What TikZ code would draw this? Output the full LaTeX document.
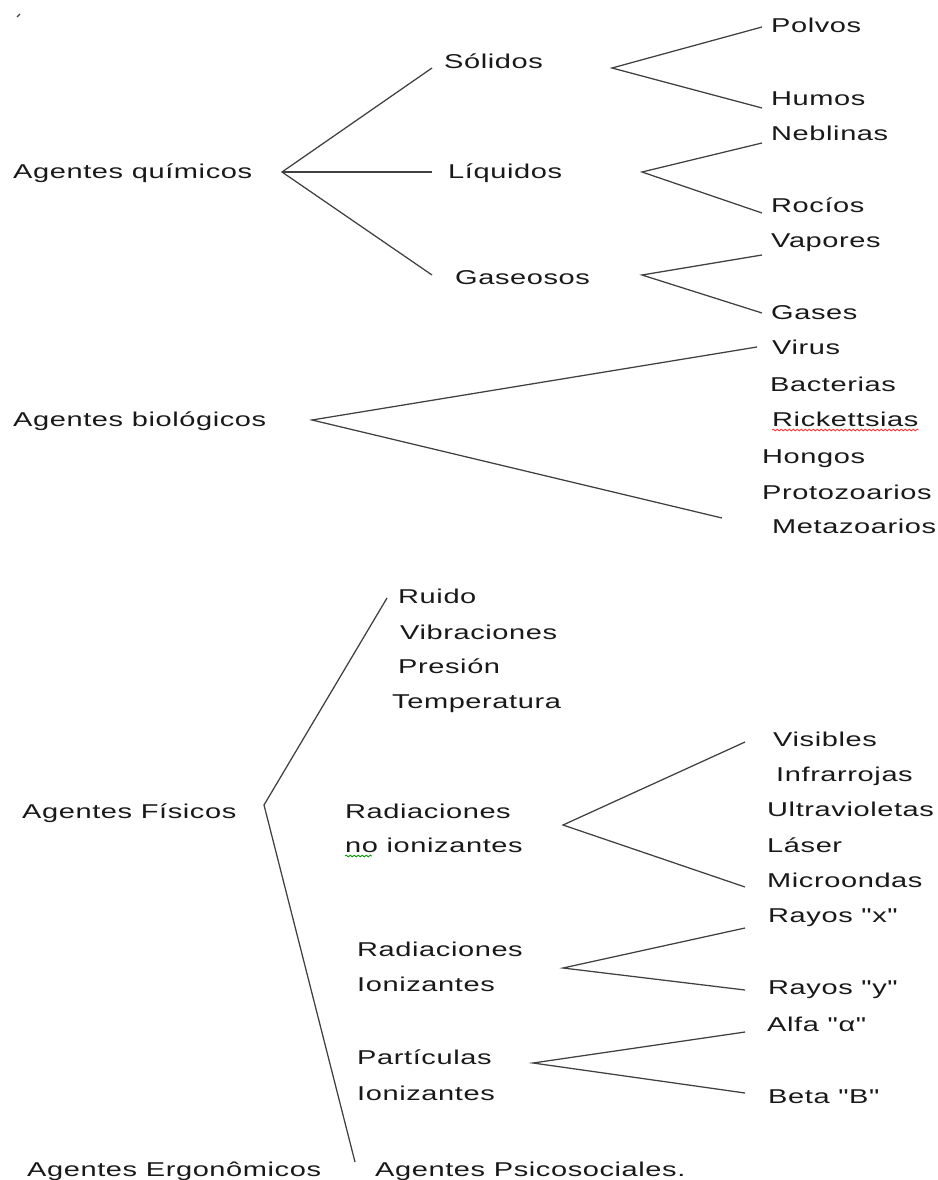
\documentclass[tikz,border=0pt]{standalone}
\usepackage{fontspec}
\setmainfont{Liberation Sans}[FakeStretch=1.45,LetterSpace=3,Ligatures=TeXOff]
\usetikzlibrary{decorations.pathmorphing}

\tikzset{
  lbl/.style={anchor=base west,inner sep=0pt,text=black!90,font=\fontsize{20}{24}\selectfont},
  rama/.style={line width=1.25pt,black!75},
  ondita/.style={decorate,decoration={snake,segment length=4pt,amplitude=0.9pt},line width=0.8pt}
}

\begin{document}
\begin{tikzpicture}[x=1pt,y=-1pt]
      \useasboundingbox[fill=white] (0,0) rectangle (937,1180);
      \draw[rama] (17,17)--(20,14);

      % agentes quimicos
      \node (quim) at (13,178) [lbl]{Agentes químicos};
      \node (sol) at (444,69) [lbl]{Sólidos};
      \node (liq) at (448,178) [lbl]{Líquidos};
      \node (gas) at (455,284) [lbl]{Gaseosos};
      \node (polvos) at (771,33) [lbl]{Polvos};
      \node (humos) at (771,106) [lbl]{Humos};
      \node (nebl) at (771,141) [lbl]{Neblinas};
      \node (rocio) at (771,212) [lbl]{Rocíos};
      \node (vapor) at (771,247) [lbl]{Vapores};
      \node (gases) at (771,319) [lbl]{Gases};

      \coordinate (fq) at (282,172);
      \coordinate (fq1) at (432,68);
      \coordinate (fq2) at (432,172);
      \coordinate (fq3) at (432,275);
      \draw[rama] (fq1)--(fq)--(fq3);
      \draw[rama] (fq)--(fq2);

      \coordinate (fs) at (612,68);
      \coordinate (fs1) at (762,27);
      \coordinate (fs2) at (762,108);
      \draw[rama] (fs1)--(fs)--(fs2);

      \coordinate (fl) at (642,172);
      \coordinate (fl1) at (762,143);
      \coordinate (fl2) at (762,213);
      \draw[rama] (fl1)--(fl)--(fl2);

      \coordinate (fg) at (642,275);
      \coordinate (fg1) at (762,255);
      \coordinate (fg2) at (762,313);
      \draw[rama] (fg1)--(fg)--(fg2);

      % agentes biologicos
      \node (bio) at (13,426) [lbl]{Agentes biológicos};
      \node (virus) at (772,354) [lbl]{Virus};
      \node (bact) at (770,391) [lbl]{Bacterias};
      \node (rick) at (772,426) [lbl]{Rickettsias};
      \node (hongos) at (762,463) [lbl]{Hongos};
      \node (proto) at (762,499) [lbl]{Protozoarios};
      \node (meta) at (772,533) [lbl]{Metazoarios};
      \draw[ondita,red!80] ([yshift=-4pt]rick.base west)--([yshift=-4pt]rick.base east);

      \coordinate (fb) at (312,420);
      \coordinate (fb1) at (757,347);
      \coordinate (fb2) at (722,518);
      \draw[rama] (fb1)--(fb)--(fb2);

      % agentes fisicos
      \node (fis) at (22,818) [lbl]{Agentes Físicos};
      \node (ruido) at (398,603) [lbl]{Ruido};
      \node (vibr) at (400,639) [lbl]{Vibraciones};
      \node (pres) at (398,673) [lbl]{Presión};
      \node (temp) at (392,708) [lbl]{Temperatura};

      \node (rad) at (345,818) [lbl]{Radiaciones};
      \node (noion) at (345,852) [lbl]{no ionizantes};
      \draw[ondita,green!60!black] ([yshift=-4pt]noion.base west)--([yshift=-4pt,xshift=27pt]noion.base west);
      \node (vis) at (773,746) [lbl]{Visibles};
      \node (infra) at (776,781) [lbl]{Infrarrojas};
      \node (ultra) at (767,816) [lbl]{Ultravioletas};
      \node (laser) at (767,852) [lbl]{Láser};
      \node (micro) at (767,887) [lbl]{Microondas};

      \node (radi) at (357,956) [lbl]{Radiaciones};
      \node (ioni) at (357,991) [lbl]{Ionizantes};
      \node (rayx) at (768,922) [lbl]{Rayos "x"};
      \node (rayy) at (768,994) [lbl]{Rayos "y"};

      \node (part) at (357,1064) [lbl]{Partículas};
      \node (partion) at (357,1100) [lbl]{Ionizantes};
      \node (alfa) at (767,1031) [lbl]{Alfa "α"};
      \node (beta) at (768,1103) [lbl]{Beta "B"};

      \coordinate (ff) at (264,805);
      \coordinate (ff1) at (387,598);
      \coordinate (ff2) at (355,1162);
      \draw[rama] (ff1)--(ff)--(ff2);

      \coordinate (fr) at (563,825);
      \coordinate (fr1) at (745,742);
      \coordinate (fr2) at (745,887);
      \draw[rama] (fr1)--(fr)--(fr2);

      \coordinate (fi) at (563,968);
      \coordinate (fi1) at (745,928);
      \coordinate (fi2) at (745,990);
      \draw[rama] (fi1)--(fi)--(fi2);

      \coordinate (fp) at (533,1063);
      \coordinate (fp1) at (745,1032);
      \coordinate (fp2) at (745,1093);
      \draw[rama] (fp1)--(fp)--(fp2);

      % otros
      \node (ergo) at (27,1176) [lbl]{Agentes Ergonômicos};
      \node (psico) at (375,1176) [lbl]{Agentes Psicosociales.};
    \end{tikzpicture}
\end{document}
